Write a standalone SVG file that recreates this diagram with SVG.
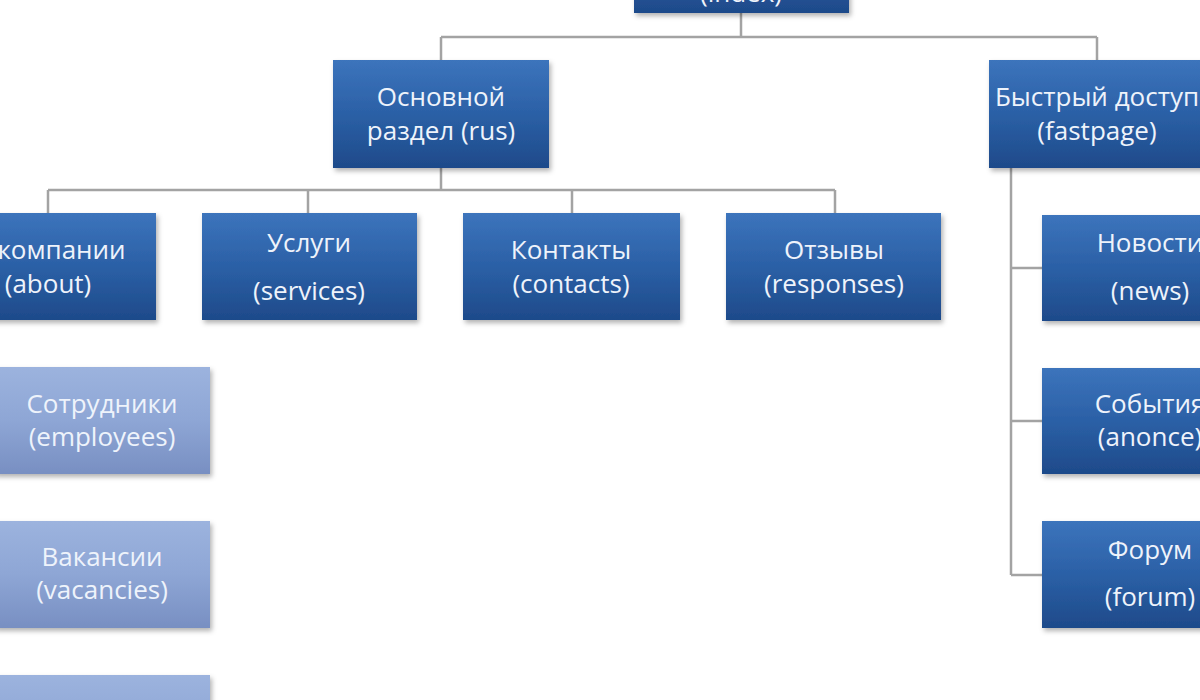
<svg xmlns="http://www.w3.org/2000/svg" width="1200" height="700" viewBox="0 0 1200 700">
<defs>
<linearGradient id="gDark" x1="0" y1="0" x2="0" y2="1">
<stop offset="0" stop-color="#3c74bc"/>
<stop offset="0.5" stop-color="#2b60a6"/>
<stop offset="1" stop-color="#1e4a8a"/>
</linearGradient>
<linearGradient id="gLight" x1="0" y1="0" x2="0" y2="1">
<stop offset="0" stop-color="#9cb3de"/>
<stop offset="0.5" stop-color="#8ea6d5"/>
<stop offset="1" stop-color="#788fc2"/>
</linearGradient>
<filter id="sh" x="-10%" y="-10%" width="125%" height="130%">
<feDropShadow dx="2" dy="3" stdDeviation="2.5" flood-color="#000" flood-opacity="0.3"/>
</filter>
</defs>
<style>
.dark{fill:url(#gDark);filter:url(#sh)}
.light{fill:url(#gLight);filter:url(#sh)}
.t{font-family:"Open Sans","Liberation Sans",sans-serif;font-size:26px;fill:#eef3fb;text-anchor:middle}
.c{fill:none;stroke:#a3a3a3;stroke-width:2.5}
</style>
<rect width="1200" height="700" fill="#ffffff"/>
<g id="connectors">
<path class="c" d="M741 13 V37 M441 37 H1097 M441 37 V60 M1097 37 V60"/>
<path class="c" d="M441 168 V190 M48 190 H835 M48 190 V213 M308 190 V213 M572 190 V213 M835 190 V213"/>
<path class="c" d="M1011 168 V575 M1011 268 H1042 M1011 421 H1042 M1011 575 H1042"/>
</g>
<g id="node-index">
<rect class="dark" x="634" y="-95" width="215" height="108"/>
<text class="t" x="741" y="2">(index)</text>
</g>
<g id="node-rus">
<rect class="dark" x="333" y="60" width="216" height="108"/>
<text class="t" x="441" y="106">Основной</text>
<text class="t" x="441" y="140">раздел (rus)</text>
</g>
<g id="node-fastpage">
<rect class="dark" x="989" y="60" width="216" height="108"/>
<text class="t" x="1097" y="106">Быстрый доступ</text>
<text class="t" x="1097" y="140">(fastpage)</text>
</g>
<g id="node-about">
<rect class="dark" x="-60" y="213" width="216" height="107"/>
<text class="t" x="48" y="259">О компании</text>
<text class="t" x="48" y="293">(about)</text>
</g>
<g id="node-services">
<rect class="dark" x="202" y="213" width="215" height="107"/>
<text class="t" x="309" y="252">Услуги</text>
<text class="t" x="309" y="300">(services)</text>
</g>
<g id="node-contacts">
<rect class="dark" x="463" y="213" width="217" height="107"/>
<text class="t" x="571" y="259">Контакты</text>
<text class="t" x="571" y="293">(contacts)</text>
</g>
<g id="node-responses">
<rect class="dark" x="726" y="213" width="215" height="107"/>
<text class="t" x="834" y="259">Отзывы</text>
<text class="t" x="834" y="293">(responses)</text>
</g>
<g id="node-news">
<rect class="dark" x="1042" y="215" width="216" height="106"/>
<text class="t" x="1150" y="252">Новости</text>
<text class="t" x="1150" y="300">(news)</text>
</g>
<g id="node-anonce">
<rect class="dark" x="1042" y="368" width="216" height="106"/>
<text class="t" x="1150" y="413">События</text>
<text class="t" x="1150" y="446">(anonce)</text>
</g>
<g id="node-forum">
<rect class="dark" x="1042" y="521" width="216" height="107"/>
<text class="t" x="1150" y="559">Форум</text>
<text class="t" x="1150" y="606">(forum)</text>
</g>
<g id="node-employees">
<rect class="light" x="-6" y="367" width="216" height="107"/>
<text class="t" x="102" y="413">Сотрудники</text>
<text class="t" x="102" y="446">(employees)</text>
</g>
<g id="node-vacancies">
<rect class="light" x="-6" y="521" width="216" height="107"/>
<text class="t" x="102" y="566">Вакансии</text>
<text class="t" x="102" y="599">(vacancies)</text>
</g>
<g id="node-third">
<rect class="light" x="-6" y="675" width="216" height="107"/>
</g>
</svg>
